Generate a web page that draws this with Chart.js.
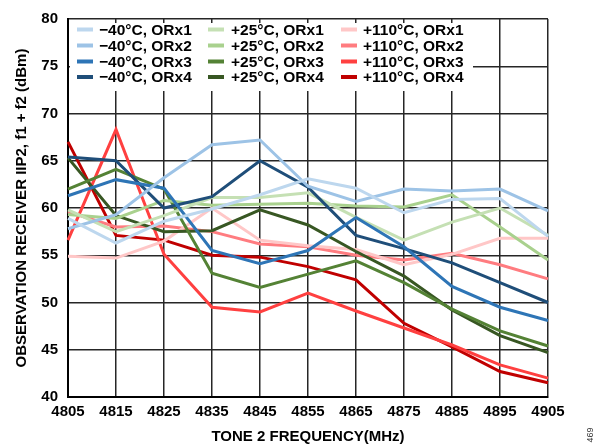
<!DOCTYPE html>
<html>
<head>
<meta charset="utf-8">
<script src="https://cdn.jsdelivr.net/npm/chart.js@4.4.1/dist/chart.umd.min.js"></script>
<style>
  html, body { margin: 0; padding: 0; background: #fff; }
  #wrap { width: 602px; height: 446px; }
</style>
</head>
<body>
<div id="wrap"><canvas id="chart"></canvas></div>
<script>
// tone 2 frequency (MHz)
const freqs = ['4805', '4815', '4825', '4835', '4845', '4855', '4865', '4875', '4885', '4895', '4905'];

// IIP2 (dBm)
const m40Orx1 = [58.9, 56.3, 58.6, 59.9, 61.4, 63.1, 62.1, 59.5, 60.9, 61.0, 57.0];
const m40Orx2 = [57.8, 59.3, 63.2, 66.7, 67.2, 62.3, 60.7, 62.0, 61.8, 62.0, 59.7];
const m40Orx3 = [61.3, 63.0, 62.1, 55.5, 54.1, 55.5, 59.0, 55.9, 51.7, 49.5, 48.1];
const m40Orx4 = [65.4, 65.0, 60.0, 61.2, 65.0, 62.2, 57.1, 55.7, 54.2, 52.1, 50.0];
const p25Orx1 = [59.8, 57.5, 59.2, 61.1, 61.1, 61.6, 59.0, 56.6, 58.5, 60.0, 57.1];
const p25Orx2 = [59.3, 58.9, 60.8, 60.3, 60.4, 60.5, 60.2, 60.1, 61.4, 58.0, 54.5];
const p25Orx3 = [62.0, 64.1, 62.0, 53.1, 51.6, 53.0, 54.4, 52.1, 49.3, 47.0, 45.4];
const p25Orx4 = [65.3, 59.2, 57.5, 57.6, 59.8, 58.2, 55.4, 52.8, 49.2, 46.5, 44.7];
const p110Orx1 = [54.9, 54.7, 56.5, 60.0, 56.6, 56.0, 55.6, 54.0, 55.1, 56.8, 56.8];
const p110Orx2 = [59.6, 58.0, 58.1, 57.5, 56.2, 55.9, 55.0, 54.5, 55.2, 54.0, 52.5];
const p110Orx3 = [56.6, 68.3, 55.1, 49.5, 49.0, 51.0, 49.1, 47.3, 45.5, 43.4, 42.0];
const p110Orx4 = [67.0, 57.1, 56.6, 55.0, 54.8, 53.8, 52.4, 47.8, 45.3, 42.7, 41.5];

const seriesNames = [
  '\u221240\u00b0C, ORx1', '\u221240\u00b0C, ORx2', '\u221240\u00b0C, ORx3', '\u221240\u00b0C, ORx4',
  '+25\u00b0C, ORx1', '+25\u00b0C, ORx2', '+25\u00b0C, ORx3', '+25\u00b0C, ORx4',
  '+110\u00b0C, ORx1', '+110\u00b0C, ORx2', '+110\u00b0C, ORx3', '+110\u00b0C, ORx4'
];
const seriesData = [m40Orx1, m40Orx2, m40Orx3, m40Orx4, p25Orx1, p25Orx2, p25Orx3, p25Orx4,
  p110Orx1, p110Orx2, p110Orx3, p110Orx4];
const seriesColors = [
  '#bdd7ee', '#9dc3e6', '#2e75b6', '#1f4e79',
  '#c5e0b4', '#a9d18e', '#548235', '#385723',
  '#ffc7c7', '#ff7c80', '#ff4040', '#c00000'
];

const FONT = '"Liberation Sans", Arial, sans-serif';

const datasets = seriesNames.map((name, i) => ({
  label: name,
  data: seriesData[i],
  borderColor: seriesColors[i],
  backgroundColor: seriesColors[i],
  borderWidth: 3,
  pointRadius: 0,
  tension: 0,
  fill: false
}));

// legend box sits inside the plot, over the grid
const legendBox = {
  id: 'legendBox',
  beforeDatasetsDraw(chart) {
    const ctx = chart.ctx;
    const area = chart.chartArea;
    ctx.save();
    ctx.fillStyle = '#fff';
    ctx.fillRect(area.left + 2, area.top + 4, 403, 68);
    const colSwatch = [77, 208, 341];
    const colText = [99, 231, 363];
    const rowY = [29.5, 45.5, 61.5, 77];
    ctx.font = 'bold 15.5px ' + FONT;
    ctx.textBaseline = 'middle';
    ctx.textAlign = 'left';
    chart.data.datasets.forEach((ds, i) => {
      const col = Math.floor(i / 4);
      const row = i % 4;
      ctx.strokeStyle = ds.borderColor;
      ctx.lineWidth = 4;
      ctx.beginPath();
      ctx.moveTo(colSwatch[col], rowY[row]);
      ctx.lineTo(colSwatch[col] + 16, rowY[row]);
      ctx.stroke();
      ctx.fillStyle = '#000';
      ctx.fillText(ds.label, colText[col], rowY[row] + 1);
    });
    ctx.restore();
  },
  afterDraw(chart) {
    const ctx = chart.ctx;
    ctx.save();
    ctx.translate(591, 435);
    ctx.rotate(-Math.PI / 2);
    ctx.font = '9px ' + FONT;
    ctx.fillStyle = '#333';
    ctx.textAlign = 'center';
    ctx.textBaseline = 'middle';
    ctx.fillText('469', 0, 0);
    ctx.restore();
  }
};

new Chart(document.getElementById('chart'), {
  type: 'line',
  data: { labels: freqs, datasets: datasets },
  plugins: [legendBox],
  options: {
    responsive: true,
    maintainAspectRatio: false,
    animation: false,
    layout: { padding: { top: 15, right: 54, left: 0, bottom: 0 } },
    plugins: {
      legend: { display: false },
      tooltip: { enabled: false }
    },
    scales: {
      x: {
        afterFit: (scale) => { scale.height = 49; },
        grid: { color: '#262626', lineWidth: 1.5, drawTicks: false },
        border: { color: '#000', width: 2 },
        ticks: { color: '#000', padding: 6, maxRotation: 0, autoSkip: false,
          font: { family: FONT, size: 15, weight: 'bold' } },
        title: { display: true, text: 'TONE 2 FREQUENCY(MHz)', color: '#000',
          padding: { top: 0, bottom: 0 },
          font: { family: FONT, size: 15, weight: 'bold' } }
      },
      y: {
        min: 40,
        max: 80,
        afterFit: (scale) => { scale.width = 68; },
        grid: { color: '#262626', lineWidth: 1.5, drawTicks: false },
        border: { color: '#000', width: 2 },
        ticks: { stepSize: 5, color: '#000', padding: 10,
          font: { family: FONT, size: 15, weight: 'bold' } },
        title: { display: true, text: 'OBSERVATION RECEIVER IIP2, f1 + f2 (dBm)', color: '#000',
          padding: { top: 13, bottom: 0 },
          font: { family: FONT, size: 15, weight: 'bold' } }
      }
    }
  }
});
</script>
</body>
</html>
